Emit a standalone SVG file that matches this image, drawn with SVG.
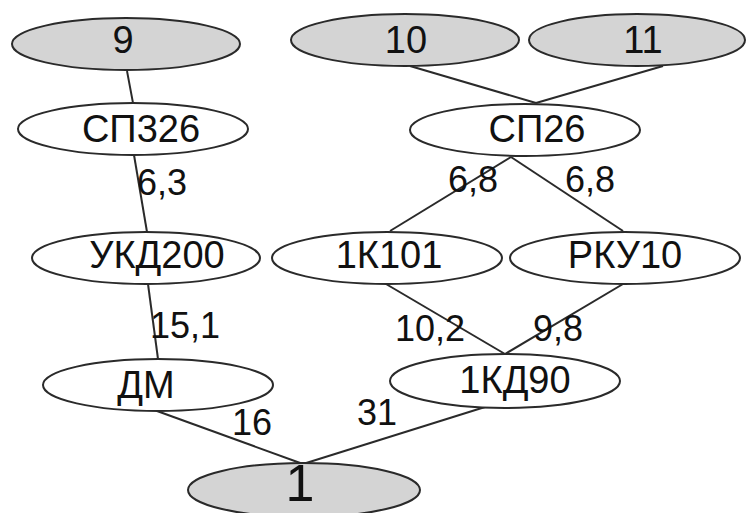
<svg xmlns="http://www.w3.org/2000/svg" width="746" height="513" viewBox="0 0 746 513">
<style>
.n{fill:#fff;stroke:#2a2a2a;stroke-width:2}
.g{fill:#d4d4d4}
.t{font-family:"Liberation Sans",Arial,sans-serif;font-size:38px;fill:#111;text-anchor:middle}
.l{font-family:"Liberation Sans",Arial,sans-serif;font-size:36px;fill:#111}
.e{stroke:#2a2a2a;stroke-width:2;fill:none}
</style>
<rect width="746" height="513" fill="#fff"/>
<g id="edges">
<line class="e" x1="127" y1="71" x2="133" y2="103"/>
<line class="e" x1="134" y1="155" x2="147" y2="232"/>
<line class="e" x1="148" y1="284" x2="158" y2="359"/>
<line class="e" x1="157" y1="411" x2="303" y2="464"/>
<line class="e" x1="485" y1="407" x2="303" y2="464"/>
<line class="e" x1="410" y1="66" x2="536" y2="103"/>
<line class="e" x1="663" y1="66" x2="536" y2="103"/>
<line class="e" x1="511" y1="157" x2="390" y2="231"/>
<line class="e" x1="511" y1="157" x2="623" y2="231"/>
<line class="e" x1="386" y1="284" x2="505" y2="354"/>
<line class="e" x1="623" y1="284" x2="505" y2="354"/>
</g>
<g id="labels">
<text class="l" x="137" y="195">6,3</text>
<text class="l" x="150" y="338">15,1</text>
<text class="l" x="232" y="435">16</text>
<text class="l" x="357" y="425">31</text>
<text class="l" x="448" y="192">6,8</text>
<text class="l" x="565" y="192">6,8</text>
<text class="l" x="395" y="341">10,2</text>
<text class="l" x="533" y="341">9,8</text>
</g>
<g id="n9"><ellipse class="n g" cx="126" cy="44" rx="114" ry="26"/><text class="t" x="123" y="53">9</text></g>
<g id="n10"><ellipse class="n g" cx="405" cy="40" rx="114" ry="26"/><text class="t" x="406" y="53">10</text></g>
<g id="n11"><ellipse class="n g" cx="637" cy="40" rx="108" ry="26"/><text class="t" x="643" y="53">11</text></g>
<g id="nSP326"><ellipse class="n" cx="133" cy="129" rx="115" ry="26"/><text class="t" x="141" y="142">СП326</text></g>
<g id="nSP26"><ellipse class="n" cx="525" cy="130" rx="115" ry="26"/><text class="t" x="537" y="142">СП26</text></g>
<g id="nUKD200"><ellipse class="n" cx="146" cy="258" rx="114" ry="26"/><text class="t" x="157" y="268">УКД200</text></g>
<g id="n1K101"><ellipse class="n" cx="387" cy="258" rx="115" ry="26"/><text class="t" x="389" y="268">1К101</text></g>
<g id="nRKU10"><ellipse class="n" cx="625" cy="258" rx="115" ry="26"/><text class="t" x="625" y="268">РКУ10</text></g>
<g id="nDM"><ellipse class="n" cx="158" cy="385" rx="115" ry="26"/><text class="t" x="146" y="398">ДМ</text></g>
<g id="n1KD90"><ellipse class="n" cx="505" cy="381" rx="115" ry="27"/><text class="t" x="515" y="393">1КД90</text></g>
<g id="n1"><ellipse class="n g" cx="304" cy="490" rx="116" ry="27"/><text class="t" x="300" y="501" style="font-size:52px">1</text></g>
</svg>
